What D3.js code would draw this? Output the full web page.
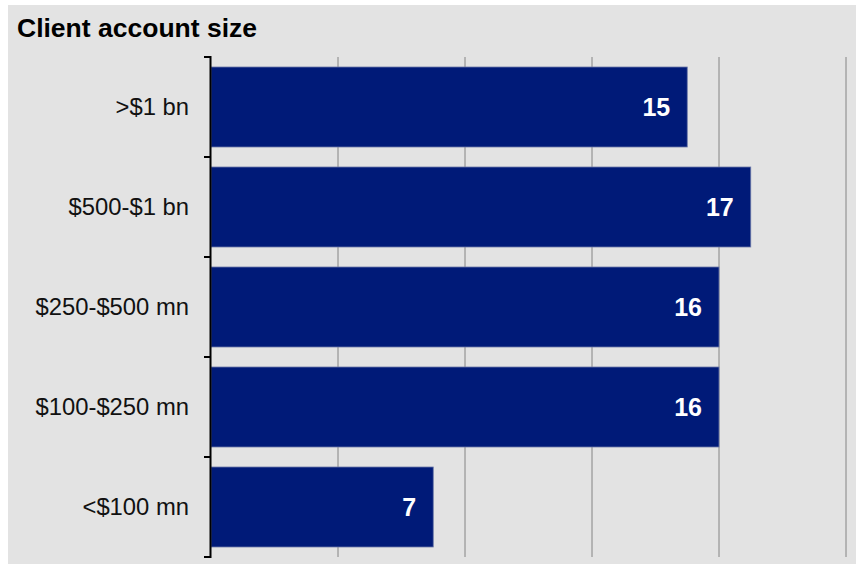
<!DOCTYPE html>
<html>
<head>
<meta charset="utf-8">
<script src="https://cdn.jsdelivr.net/npm/d3@7/dist/d3.min.js"></script>
<style>
  html, body { margin: 0; padding: 0; background: #ffffff; }
  svg { display: block; }
</style>
</head>
<body>
<svg id="chart" width="856" height="568"></svg>
<script>
// Share of clients by account size
const categories = [">$1 bn", "$500-$1 bn", "$250-$500 mn", "$100-$250 mn", "<$100 mn"];
const values = [15, 17, 16, 16, 7];
const xTicks = [0, 4, 8, 12, 16, 20];
const title = "Client account size";

const svg = d3.select("#chart");
const W = 856, H = 568;

// panel background
svg.append("rect")
  .attr("x", 8).attr("y", 5)
  .attr("width", W - 8).attr("height", 559)
  .attr("fill", "#e3e3e3");

const x = d3.scaleLinear().domain([0, 20]).range([211, 846]);
const y = d3.scaleBand().domain(categories).range([57, 557])
  .paddingInner(0.2).paddingOuter(0.1);

// vertical gridlines
svg.append("g")
  .selectAll("line")
  .data(xTicks.slice(1))
  .join("line")
  .attr("x1", d => x(d)).attr("x2", d => x(d))
  .attr("y1", 57).attr("y2", 557)
  .attr("stroke", "#a8a8a8")
  .attr("stroke-width", 1.6);

// bars
svg.append("g")
  .selectAll("rect")
  .data(values)
  .join("rect")
  .attr("x", x(0))
  .attr("y", (d, i) => y(categories[i]))
  .attr("width", d => x(d) - x(0))
  .attr("height", y.bandwidth())
  .attr("fill", "#001a78")
  .attr("stroke", "#6b78a8")
  .attr("stroke-width", 0.8);

// value labels inside bar ends
svg.append("g")
  .selectAll("text")
  .data(values)
  .join("text")
  .attr("x", d => x(d) - 17)
  .attr("y", (d, i) => y(categories[i]) + y.bandwidth() / 2)
  .attr("dy", "0.35em")
  .attr("text-anchor", "end")
  .attr("font-family", "Liberation Sans, Arial, sans-serif")
  .attr("font-weight", "bold")
  .attr("font-size", 25)
  .attr("fill", "#ffffff")
  .text(d => d);

// category axis with ticks at band boundaries
const yAxis = svg.append("g");
yAxis.append("line")
  .attr("x1", 210.5).attr("x2", 210.5)
  .attr("y1", 56).attr("y2", 558)
  .attr("stroke", "#000").attr("stroke-width", 2);
const bounds = d3.range(categories.length + 1).map(i => 57 + i * y.step());
yAxis.selectAll("line.tick")
  .data(bounds)
  .join("line")
  .attr("class", "tick")
  .attr("x1", 204).attr("x2", 210)
  .attr("y1", d => d).attr("y2", d => d)
  .attr("stroke", "#000").attr("stroke-width", 2);

yAxis.selectAll("text")
  .data(categories)
  .join("text")
  .attr("x", 189)
  .attr("y", d => y(d) + y.bandwidth() / 2)
  .attr("dy", "0.35em")
  .attr("text-anchor", "end")
  .attr("font-family", "Liberation Sans, Arial, sans-serif")
  .attr("font-size", 23.8)
  .attr("fill", "#111")
  .text(d => d);

// title
svg.append("text")
  .attr("x", 17)
  .attr("y", 37)
  .attr("font-family", "Liberation Sans, Arial, sans-serif")
  .attr("font-weight", "bold")
  .attr("font-size", 26.5)
  .attr("fill", "#000")
  .text(title);
</script>
</body>
</html>
